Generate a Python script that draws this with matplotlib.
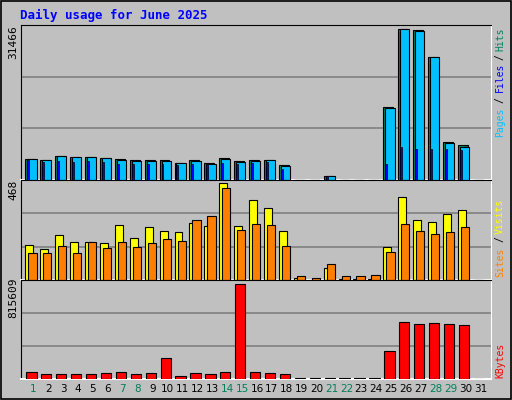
import numpy as np
import matplotlib.pyplot as plt

days = np.arange(1, 32)
hits = [4410, 4130, 4980, 4770, 4770, 4560, 4340, 4130, 4130, 4130, 3490, 4130, 3490, 4560, 3920,
        4130, 4130, 3060, 0, 0, 930, 0, 0, 0, 15240, 31466, 31250, 25700, 7970, 7330, 0]
files = [4410, 4130, 4980, 4770, 4770, 4560, 4130, 3920, 3920, 3920, 3490, 3920, 3280, 4340, 3700,
         3920, 4130, 2850, 0, 0, 930, 0, 0, 0, 15020, 31466, 31040, 25700, 7760, 6900, 0]
pages = [4130, 3700, 3920, 3700, 3920, 3700, 3280, 3280, 3280, 3280, 3060, 3280, 3280, 3490, 3280,
         3490, 3700, 2200, 0, 0, 930, 0, 0, 0, 3280, 6900, 6550, 6550, 6550, 6340, 0]
visits = [169, 149, 215, 184, 184, 179, 265, 204, 255, 235, 230, 275, 260, 468, 260,
          387, 346, 235, 12, 0, 57, 5, 5, 7, 159, 402, 291, 281, 316, 336, 0]
sites = [128, 128, 164, 128, 184, 154, 184, 159, 179, 199, 189, 291, 306, 443, 240,
         270, 265, 164, 17, 12, 78, 17, 17, 22, 134, 270, 235, 220, 230, 255, 0]
kbytes = [56600, 38700, 38700, 38700, 38700, 47600, 56600, 38700, 47600, 181600, 29800, 47600,
          38700, 56600, 815609, 56600, 47600, 38700, 5000, 5000, 5000, 5000, 5000, 5000,
          244100, 485200, 467400, 476300, 467400, 458500, 0]
weekend = {1, 7, 8, 14, 15, 21, 22, 28, 29}

BG = "#C0C0C0"
fig = plt.figure(figsize=(5.12, 4.0), dpi=100, facecolor=BG)
fig.patches.append(plt.Rectangle((0.002, 0.002), 0.996, 0.996, transform=fig.transFigure,
                                 fill=False, ec="black", lw=1.2))
mono = "DejaVu Sans Mono"


def panel(bottom, height, ymax):
    ax = fig.add_axes([20.7 / 512, bottom, 470 / 512, height], facecolor=BG)
    ax.set_xlim(0.155, 31.67)
    ax.set_ylim(0, ymax)
    ax.set_yticks([ymax / 3, 2 * ymax / 3])
    ax.yaxis.grid(True, color="#808080", lw=1.2)
    ax.set_axisbelow(True)
    ax.tick_params(length=0, labelleft=False, labelbottom=False)
    for s in ax.spines.values():
        s.set_color("black")
    ax.spines["right"].set_color("white")
    ax.spines["bottom"].set_color("white")
    ax.spines["bottom"].set_lw(1.5)
    return ax


def bars(ax, vals, x0, x1, color, lw=0.8):
    v = np.array(vals, dtype=float)
    ax.bar(days + x0, v, width=x1 - x0, align="edge", color=color, ec="black", lw=lw, zorder=3)


ax1 = panel(1 - 180 / 400, 155 / 400, 31466 * 455 / 442)
bars(ax1, hits, -0.53, 0.13, "#00805C")
bars(ax1, files, -0.4, 0.22, "#00C0FF")
bars(ax1, pages, -0.4, -0.27, "#0000FF", lw=0.5)

ax2 = panel(1 - 280 / 400, 100 / 400, 468 * 285 / 277)
bars(ax2, visits, -0.53, 0.0, "#FFFF00")
bars(ax2, sites, -0.33, 0.22, "#FF8000")

ax3 = panel(1 - 379 / 400, 99 / 400, 815609 * 285 / 274)
bars(ax3, kbytes, -0.47, 0.22, "#FF0000")

# max labels on the left
fig.text(13 / 512, 1 - 42 / 400, "31466", rotation=90, ha="center", va="center", family=mono, fontsize=8)
fig.text(13 / 512, 1 - 190 / 400, "468", rotation=90, ha="center", va="center", family=mono, fontsize=8)
fig.text(13 / 512, 1 - 298 / 400, "815609", rotation=90, ha="center", va="center", family=mono, fontsize=8)

# day labels
for d in days:
    fig.text((33.3 + (d - 1) * 14.91) / 512, 1 - 389 / 400, str(d), ha="center", va="center",
             fontsize=7.5, family="DejaVu Sans", color="#00805C" if d in weekend else "black")


# right side legends
def rlabel(parts):
    for txt, y, col in parts:
        fig.text(500 / 512, 1 - y / 400, txt, rotation=90, ha="center", va="center",
                 family=mono, fontsize=7, color=col)


rlabel([("Hits", 39, "#00805C"), ("/", 57, "black"), ("Files", 77, "#0000FF"),
        ("/", 100, "black"), ("Pages", 122, "#00C0FF")])
rlabel([("Visits", 216, "#FFFF00"), ("/", 239, "black"), ("Sites", 262, "#FF8000")])
rlabel([("KBytes", 360, "#FF0000")])

fig.text(20 / 512, 1 - 15 / 400, "Daily usage for June 2025", family=mono, fontweight="bold",
         fontsize=9, color="#0000FF", va="center")

fig.savefig("out.png", dpi=100, facecolor=BG)
